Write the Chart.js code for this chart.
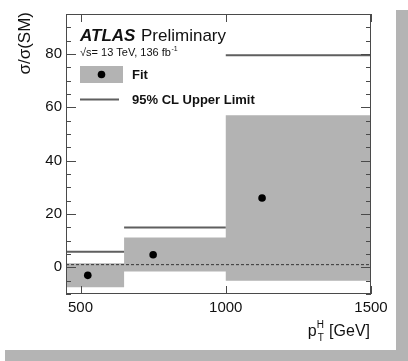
<!DOCTYPE html>
<html>
<head>
<meta charset="utf-8">
<script src="https://cdn.jsdelivr.net/npm/chart.js@4"></script>
<style>
  body { margin: 0; background: #fff; }
  #marco { position: relative; width: 408px; height: 361px; overflow: hidden; }
  .sombra { position: absolute; background: #b4b4b4; }
  canvas { position: absolute; left: 0; top: 0; }
</style>
</head>
<body>
<div id="marco">
  <div class="sombra" style="left:396px; top:10px; width:12px; height:351px"></div>
  <div class="sombra" style="left:5px; top:350px; width:403px; height:11px"></div>
  <canvas id="grafico" width="408" height="361"></canvas>
</div>
<script>
// Bordes de los bins en pT del Higgs (GeV)
const bordesBins = [450, 650, 1000, 1500];
// Posición y valor del ajuste de sigma/sigma(SM) en cada bin
const centrosAjuste = [525, 750, 1125];
const valoresAjuste = [-3, 4.7, 26];
// Banda de incertidumbre del ajuste
const bandaSuperior = [1.5, 11.2, 57];
const bandaInferior = [-7.5, -1.6, -5];
// Límite superior al 95% CL
const limitesSuperiores = [5.8, 14.9, 79.5];
// Referencia del Modelo Estándar
const valorSM = 1;
// Etiquetas de los ejes
const ticksX = [500, 1000, 1500];
const ticksY = [0, 20, 40, 60, 80];

const fuente = 'Liberation Sans, Arial, Helvetica, sans-serif';

// Línea escalonada: cada valor se mantiene hasta el borde siguiente
function escalonar(valores) {
    const puntos = valores.map((v, i) => ({ x: bordesBins[i], y: v }));
    puntos.push({ x: bordesBins[bordesBins.length - 1], y: valores[valores.length - 1] });
    return puntos;
}
// Segmentos horizontales por bin, cortados con null entre uno y otro
function segmentos(valores) {
    return valores.flatMap((v, i) => [
        { x: bordesBins[i], y: v },
        { x: bordesBins[i + 1], y: v },
        { x: bordesBins[i + 1], y: null }
    ]);
}

// Plugin para el marco estilo ROOT, las marcas menores y los textos
const marcoATLAS = {
    id: 'marcoATLAS',
    afterDatasetsDraw(chart) {
        const { ctx, chartArea: a, scales: { x, y } } = chart;
        ctx.save();
        ctx.strokeStyle = '#4a4a4a';
        ctx.lineWidth = 1;
        ctx.strokeRect(a.left + 0.5, a.top + 0.5, a.right - a.left - 1, a.bottom - a.top - 1);

        // marcas del eje Y (mayores cada 20, menores cada 5) a ambos lados
        ctx.beginPath();
        for (let v = y.min; v <= y.max; v += 5) {
            const py = Math.round(y.getPixelForValue(v)) + 0.5;
            const largo = v % 20 === 0 ? 10 : 5;
            ctx.moveTo(a.left, py); ctx.lineTo(a.left + largo, py);
            ctx.moveTo(a.right, py); ctx.lineTo(a.right - largo, py);
        }
        // marcas del eje X abajo y arriba
        ticksX.forEach(v => {
            const px = Math.round(x.getPixelForValue(v)) + 0.5;
            ctx.moveTo(px, a.bottom); ctx.lineTo(px, a.bottom - 8);
            ctx.moveTo(px, a.top); ctx.lineTo(px, a.top + 8);
        });
        ctx.stroke();

        ctx.fillStyle = '#111';
        ctx.textBaseline = 'alphabetic';
        ctx.textAlign = 'left';
        // ATLAS Preliminary
        ctx.font = 'italic bold 17px ' + fuente;
        ctx.fillText('ATLAS', 80, 40.5);
        ctx.font = '17px ' + fuente;
        ctx.fillText('Preliminary', 141, 40.5);
        ctx.font = '11px ' + fuente;
        ctx.fillText('√s= 13 TeV, 136 fb', 80, 56);
        const anchoLumi = ctx.measureText('√s= 13 TeV, 136 fb').width;
        ctx.font = '7px ' + fuente;
        ctx.fillText('-1', 80 + anchoLumi + 0.5, 51);

        // leyenda: ajuste
        ctx.fillStyle = '#b3b3b3';
        ctx.fillRect(80, 66, 43, 17);
        ctx.fillStyle = '#000';
        ctx.beginPath();
        ctx.arc(101.5, 74.5, 3.8, 0, Math.PI * 2);
        ctx.fill();
        // leyenda: límite
        ctx.strokeStyle = '#5f5f5f';
        ctx.lineWidth = 2;
        ctx.beginPath();
        ctx.moveTo(80, 99.5); ctx.lineTo(119, 99.5);
        ctx.stroke();
        ctx.fillStyle = '#111';
        ctx.font = 'bold 13px ' + fuente;
        ctx.textBaseline = 'middle';
        ctx.fillText('Fit', 132, 75);
        ctx.fillText('95% CL Upper Limit', 132, 100);

        // título del eje X: p_T^H [GeV]
        ctx.textBaseline = 'alphabetic';
        ctx.font = '16px ' + fuente;
        const base = 336;
        const finX = a.right - 1;
        const anchoGeV = ctx.measureText(' [GeV]').width;
        ctx.textAlign = 'right';
        ctx.fillText(' [GeV]', finX, base);
        const xInd = finX - anchoGeV - 8;
        ctx.font = '10px ' + fuente;
        ctx.textAlign = 'left';
        ctx.fillText('H', xInd, base - 8);
        ctx.fillText('T', xInd + 1, base + 5);
        ctx.font = '16px ' + fuente;
        ctx.textAlign = 'right';
        ctx.fillText('p', xInd, base);

        // título del eje Y
        ctx.translate(25, 12);
        ctx.rotate(-Math.PI / 2);
        ctx.textAlign = 'right';
        ctx.textBaseline = 'middle';
        ctx.font = '17px ' + fuente;
        ctx.fillText('σ/σ(SM)', 0, 0);
        ctx.restore();
    }
};

const ctx = document.getElementById('grafico').getContext('2d');
new Chart(ctx, {
    type: 'line',
    data: {
        datasets: [
            {
                label: 'banda inferior',
                data: escalonar(bandaInferior),
                stepped: 'before',
                borderWidth: 0,
                borderColor: 'rgba(0,0,0,0)',
                pointRadius: 0,
                fill: false,
                order: 5
            },
            {
                label: 'Fit',
                data: escalonar(bandaSuperior),
                stepped: 'before',
                borderWidth: 0,
                borderColor: 'rgba(0,0,0,0)',
                backgroundColor: '#b3b3b3',
                pointRadius: 0,
                fill: '-1',
                order: 4
            },
            {
                label: 'SM',
                data: [{ x: bordesBins[0], y: valorSM }, { x: bordesBins[bordesBins.length - 1], y: valorSM }],
                borderColor: '#333',
                borderWidth: 1,
                borderDash: [3, 2],
                pointRadius: 0,
                fill: false,
                order: 3
            },
            {
                label: '95% CL Upper Limit',
                data: segmentos(limitesSuperiores),
                borderColor: '#5f5f5f',
                borderWidth: 2,
                pointRadius: 0,
                spanGaps: false,
                fill: false,
                order: 2
            },
            {
                label: 'Fit punto',
                data: centrosAjuste.map((cx, i) => ({ x: cx, y: valoresAjuste[i] })),
                showLine: false,
                pointRadius: 3.8,
                pointBackgroundColor: '#000',
                pointBorderWidth: 0,
                fill: false,
                order: 1
            }
        ]
    },
    options: {
        responsive: false,
        animation: false,
        layout: { padding: { left: 0, top: 14, right: 37, bottom: 0 } },
        plugins: {
            legend: { display: false },
            tooltip: { enabled: false }
        },
        scales: {
            x: {
                type: 'linear',
                min: bordesBins[0],
                max: bordesBins[bordesBins.length - 1],
                grid: { display: false, drawTicks: false },
                border: { display: false },
                afterBuildTicks: s => { s.ticks = ticksX.map(v => ({ value: v })); },
                afterFit: s => { s.height = 67; },
                ticks: {
                    padding: 5,
                    color: '#111',
                    autoSkip: false,
                    maxRotation: 0,
                    font: { family: fuente, size: 15 },
                    callback: v => String(v)
                }
            },
            y: {
                type: 'linear',
                min: -10,
                max: 95,
                grid: { display: false, drawTicks: false },
                border: { display: false },
                afterBuildTicks: s => { s.ticks = ticksY.map(v => ({ value: v })); },
                afterFit: s => { s.width = 66; },
                ticks: {
                    padding: 4,
                    color: '#111',
                    autoSkip: false,
                    font: { family: fuente, size: 15 },
                    callback: v => String(v)
                }
            }
        }
    },
    plugins: [marcoATLAS]
});
</script>
</body>
</html>
